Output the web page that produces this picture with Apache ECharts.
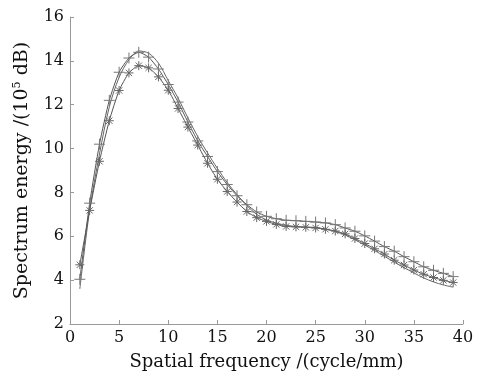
<!DOCTYPE html>
<html>
<head>
<meta charset="utf-8">
<script src="https://cdn.jsdelivr.net/npm/echarts@6/dist/echarts.min.js"></script>
<style>
  html, body { margin: 0; padding: 0; background: #fff; }
</style>
</head>
<body>
<div id="main" style="width: 479px; height: 376px;"></div>
<script>
  // spatial frequency samples
  const freq = [1, 2, 3, 4, 5, 6, 7, 8, 9, 10, 11, 12, 13, 14, 15, 16, 17, 18, 19, 20,
    21, 22, 23, 24, 25, 26, 27, 28, 29, 30, 31, 32, 33, 34, 35, 36, 37, 38, 39];
  // '+' curve
  const plusVals = [4.04, 7.51, 10.2, 12.2, 13.48, 14.13, 14.39, 14.17, 13.63, 12.92,
    12.12, 11.21, 10.35, 9.64, 8.95, 8.36, 7.85, 7.44, 7.11, 6.91,
    6.80, 6.73, 6.71, 6.68, 6.65, 6.61, 6.53, 6.38, 6.23, 6.02,
    5.78, 5.53, 5.32, 5.07, 4.84, 4.61, 4.45, 4.31, 4.16];
  // '*' curve
  const starVals = [4.7, 7.18, 9.42, 11.27, 12.65, 13.45, 13.78, 13.68, 13.27, 12.66,
    11.83, 10.98, 10.16, 9.33, 8.6, 8.04, 7.56, 7.13, 6.85, 6.68,
    6.54, 6.45, 6.43, 6.41, 6.38, 6.32, 6.24, 6.11, 5.90, 5.67,
    5.43, 5.19, 4.91, 4.69, 4.46, 4.27, 4.12, 3.99, 3.89];
  // plain curve (no markers)
  const plainVals = [3.6, 7.2, 9.75, 11.9, 13.25, 14.05, 14.45, 14.35, 13.9, 13.1,
    12.3, 11.4, 10.55, 9.8, 9.1, 8.45, 7.9, 7.4, 7.0, 6.75,
    6.6, 6.5, 6.45, 6.42, 6.4, 6.33, 6.22, 6.06, 5.84, 5.6,
    5.35, 5.09, 4.82, 4.57, 4.33, 4.1, 3.92, 3.78, 3.68];
  const xTicks = [0, 5, 10, 15, 20, 25, 30, 35, 40];
  const yTicks = [2, 4, 6, 8, 10, 12, 14, 16];

  const pair = (vals) => freq.map((f, i) => [f, vals[i]]);

  const plusPath = 'path://M0,-10L0,10M-10,0L10,0';
  const starPath = 'path://M0,-10L0,10M-10,0L10,0M-7,-7L7,7M-7,7L7,-7';
  const font = 'DejaVu Serif';

  const myChart = echarts.init(document.getElementById('main'));
  let option = {
    backgroundColor: '#fff',
    animation: false,
    grid: { left: 70, right: 16, top: 17, bottom: 50 },
    xAxis: {
      type: 'value',
      min: xTicks[0],
      max: xTicks[xTicks.length - 1],
      interval: 5,
      name: 'Spatial frequency /(cycle/mm)',
      nameLocation: 'middle',
      nameGap: 29,
      nameTextStyle: { fontFamily: font, fontSize: 18, color: '#111' },
      axisLine: { lineStyle: { color: '#999', width: 1 } },
      axisTick: { inside: true, length: 4, lineStyle: { color: '#999' } },
      axisLabel: { fontFamily: font, fontSize: 16, color: '#111', margin: 6 },
      splitLine: { show: false }
    },
    yAxis: {
      type: 'value',
      min: yTicks[0],
      max: yTicks[yTicks.length - 1],
      interval: 2,
      name: 'Spectrum energy /(10{sup|5} dB)',
      nameLocation: 'middle',
      nameGap: 38,
      nameTextStyle: {
        fontFamily: font, fontSize: 19, color: '#111',
        rich: { sup: { fontFamily: font, fontSize: 11, color: '#111', verticalAlign: 'top', padding: [0, 0, 9, 0] } }
      },
      axisLine: { show: true, lineStyle: { color: '#999', width: 1 } },
      axisTick: { show: true, inside: true, length: 4, lineStyle: { color: '#999' } },
      axisLabel: { fontFamily: font, fontSize: 16, color: '#111', margin: 6 },
      splitLine: { show: false }
    },
    series: [
      {
        name: 'plain', type: 'line', data: pair(plainVals),
        smooth: 0.3, showSymbol: false, symbol: 'none',
        lineStyle: { color: '#666', width: 1 }
      },
      {
        name: 'plus', type: 'line', data: pair(plusVals),
        smooth: 0.2, symbol: plusPath, symbolSize: 11, showAllSymbol: true,
        lineStyle: { color: '#555', width: 1 },
        itemStyle: { color: 'none', borderColor: '#777', borderWidth: 1 }
      },
      {
        name: 'star', type: 'line', data: pair(starVals),
        smooth: 0.2, symbol: starPath, symbolSize: 9, showAllSymbol: true,
        lineStyle: { color: '#555', width: 1 },
        itemStyle: { color: 'none', borderColor: '#666', borderWidth: 1 }
      }
    ]
  };
  myChart.setOption(option);
</script>
</body>
</html>
